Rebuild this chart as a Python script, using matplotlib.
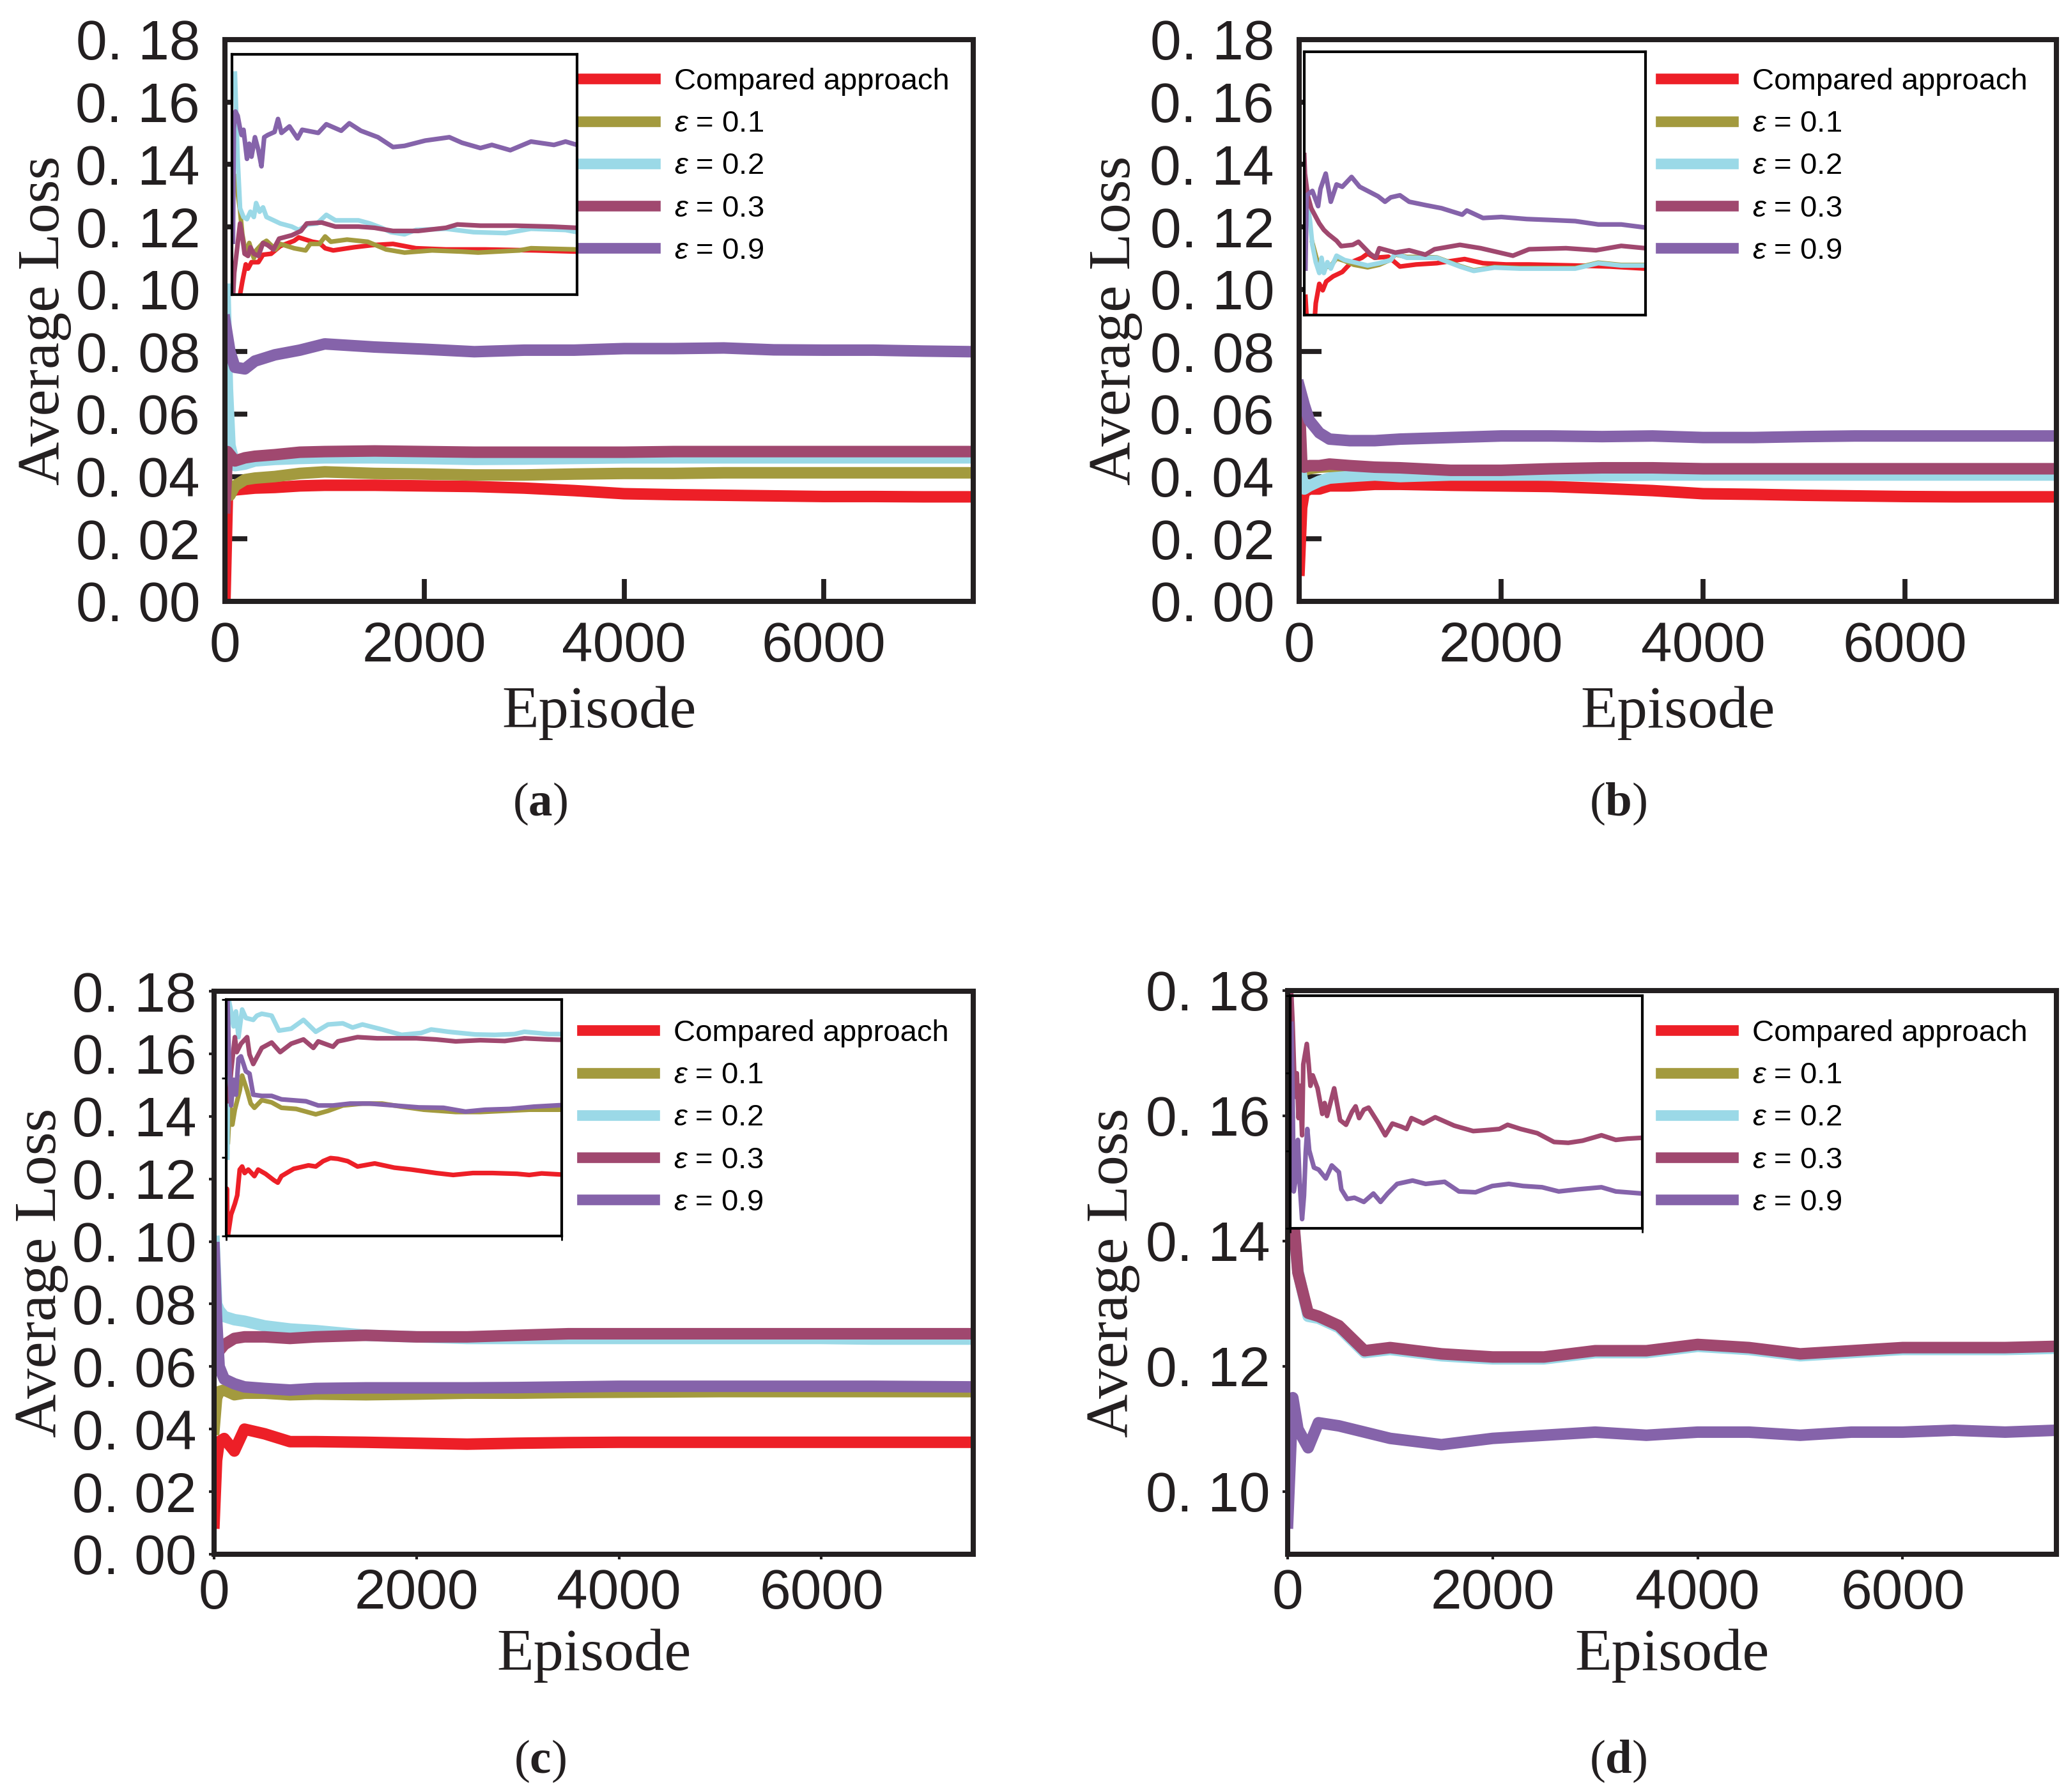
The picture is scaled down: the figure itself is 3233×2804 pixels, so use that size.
import matplotlib
matplotlib.use('Agg')
import matplotlib.pyplot as plt
import numpy as np
from matplotlib.ticker import FuncFormatter

# ---- data ----
EPISODES = [0, 25, 50, 100, 200, 300, 500, 750, 1000, 1500, 2000, 2500,
            3000, 3500, 4000, 4500, 5000, 5500, 6000, 6500, 7000, 7500]

LABELS = ['Compared approach', r'$\varepsilon$ = 0.1', r'$\varepsilon$ = 0.2',
          r'$\varepsilon$ = 0.3', r'$\varepsilon$ = 0.9']
COLORS = ['#ed1f27', '#a39a3e', '#9bd9e7', '#a0486f', '#8563aa']

# (a)
A_RED = [0.0, 0.034, 0.035, 0.0357, 0.036, 0.0363, 0.0365, 0.037, 0.0372, 0.0372, 0.037, 0.0368,
         0.0363, 0.0355, 0.0345, 0.0342, 0.034, 0.0338, 0.0336, 0.0336, 0.0335, 0.0335]
A_E01 = [0.045, 0.036, 0.034, 0.037, 0.039, 0.0395, 0.040, 0.041, 0.0415, 0.041, 0.0408, 0.0405,
         0.0405, 0.0408, 0.041, 0.041, 0.0412, 0.0412, 0.0412, 0.0412, 0.0412, 0.0412]
A_E02 = [0.100, 0.068, 0.050, 0.0435, 0.044, 0.045, 0.0455, 0.0458, 0.046, 0.046, 0.0458, 0.0455,
         0.0456, 0.0458, 0.046, 0.046, 0.046, 0.046, 0.046, 0.046, 0.046, 0.046]
A_E03 = [0.030, 0.048, 0.047, 0.045, 0.046, 0.0465, 0.047, 0.0478, 0.048, 0.0482, 0.048, 0.0478,
         0.0478, 0.0478, 0.0478, 0.048, 0.048, 0.048, 0.048, 0.048, 0.048, 0.048]
A_E09 = [0.090, 0.085, 0.080, 0.075, 0.0745, 0.077, 0.079, 0.0805, 0.0825, 0.0815, 0.0808, 0.080,
         0.0805, 0.0805, 0.081, 0.081, 0.0812, 0.0806, 0.0805, 0.0805, 0.0802, 0.080]

# (b)
B_RED = [0.010, 0.030, 0.035, 0.036, 0.036, 0.037, 0.037, 0.0375, 0.0375, 0.0372, 0.037, 0.0368,
         0.0362, 0.0355, 0.0345, 0.0343, 0.034, 0.0338, 0.0336, 0.0335, 0.0335, 0.0335]
B_E01 = [0.050, 0.044, 0.042, 0.0425, 0.043, 0.0432, 0.043, 0.0425, 0.0422, 0.0415, 0.0418, 0.042,
         0.0422, 0.0422, 0.042, 0.042, 0.042, 0.042, 0.042, 0.042, 0.042, 0.042]
B_E02 = [0.045, 0.040, 0.036, 0.037, 0.0385, 0.0395, 0.040, 0.0405, 0.040, 0.0405, 0.0405, 0.0405,
         0.0402, 0.0405, 0.0405, 0.0405, 0.0405, 0.0405, 0.0405, 0.0405, 0.0405, 0.0405]
B_E03 = [0.065, 0.045, 0.043, 0.0435, 0.0435, 0.044, 0.0435, 0.043, 0.0428, 0.042, 0.042, 0.0425,
         0.0428, 0.0428, 0.0425, 0.0425, 0.0425, 0.0425, 0.0425, 0.0425, 0.0425, 0.0425]
B_E09 = [0.069, 0.066, 0.063, 0.058, 0.054, 0.052, 0.0515, 0.0515, 0.052, 0.0525, 0.053, 0.053,
         0.0528, 0.053, 0.0525, 0.0525, 0.0528, 0.053, 0.053, 0.053, 0.053, 0.053]

# (c)
C_RED = [0.010, 0.030, 0.036, 0.037, 0.033, 0.040, 0.0385, 0.036, 0.036, 0.0358, 0.0355, 0.0352,
         0.0355, 0.0357, 0.0358, 0.0358, 0.0358, 0.0358, 0.0358, 0.0358, 0.0358, 0.0358]
C_E01 = [0.040, 0.050, 0.052, 0.0525, 0.051, 0.0515, 0.0515, 0.051, 0.0512, 0.051, 0.0512, 0.0515,
         0.0515, 0.0517, 0.0518, 0.0519, 0.052, 0.052, 0.052, 0.052, 0.052, 0.052]
C_E02 = [0.100, 0.080, 0.078, 0.076, 0.075, 0.0745, 0.073, 0.072, 0.0715, 0.070, 0.0695, 0.069,
         0.069, 0.069, 0.069, 0.069, 0.069, 0.069, 0.069, 0.0688, 0.0688, 0.0688]
C_E03 = [0.075, 0.068, 0.065, 0.067, 0.069, 0.0695, 0.0695, 0.069, 0.0695, 0.070, 0.0695, 0.0695,
         0.070, 0.0705, 0.0705, 0.0705, 0.0705, 0.0705, 0.0705, 0.0705, 0.0705, 0.0705]
C_E09 = [0.098, 0.075, 0.060, 0.056, 0.0545, 0.0535, 0.053, 0.0525, 0.053, 0.0532, 0.0532, 0.0532,
         0.0533, 0.0535, 0.0537, 0.0537, 0.0537, 0.0537, 0.0537, 0.0537, 0.0536, 0.0535]

# (d)  compared approach and eps=0.1 lie below the visible range
D_RED = []
D_E01 = []
D_E02 = [0.178, 0.158, 0.1445, 0.1352, 0.128, 0.1277, 0.1262, 0.1222, 0.1227, 0.1217, 0.1212, 0.1212,
         0.1222, 0.1222, 0.1232, 0.1227, 0.1217, 0.1222, 0.1227, 0.1227, 0.1227, 0.1229]
D_E03 = [0.180, 0.160, 0.145, 0.135, 0.1285, 0.128, 0.1265, 0.1225, 0.123, 0.122, 0.1215, 0.1215,
         0.1225, 0.1225, 0.1235, 0.123, 0.122, 0.1225, 0.123, 0.123, 0.123, 0.1232]
D_E09 = [0.095, 0.105, 0.115, 0.110, 0.107, 0.111, 0.1105, 0.1095, 0.1085, 0.1075, 0.1085, 0.109,
         0.1095, 0.109, 0.1095, 0.1095, 0.109, 0.1095, 0.1095, 0.1098, 0.1095, 0.1098]

# insets: first 3500 episodes, (episode, loss) pairs
A_IN_RED = [(60, 0.0), (82, 0.018), (105, 0.0234), (140, 0.0306), (163, 0.0288), (198, 0.0315), (268, 0.0315),
            (315, 0.0346), (397, 0.035), (490, 0.0382), (630, 0.0404), (677, 0.0418), (817, 0.040), (887, 0.0395),
            (945, 0.0373), (1027, 0.0364), (1237, 0.0377), (1423, 0.0386), (1633, 0.0391), (1866, 0.0373),
            (2170, 0.0368), (2566, 0.0368), (3080, 0.0364), (3500, 0.0359)]
A_IN_E01 = [(35, 0.0673), (82, 0.053), (105, 0.0431), (140, 0.035), (175, 0.0395), (222, 0.0332), (245, 0.0364),
            (315, 0.0395), (350, 0.0404), (443, 0.0368), (490, 0.0391), (630, 0.0373), (747, 0.0364), (793, 0.0391),
            (887, 0.0391), (945, 0.0422), (1003, 0.040), (1167, 0.0409), (1376, 0.040), (1563, 0.0368),
            (1750, 0.0355), (2030, 0.0364), (2333, 0.0359), (2496, 0.0355), (2916, 0.0364), (3033, 0.0373),
            (3500, 0.0368)]
A_IN_E02 = [(30, 0.11), (58, 0.0745), (82, 0.0539), (117, 0.0503), (152, 0.0494), (187, 0.0525), (222, 0.0503),
            (245, 0.0561), (280, 0.0525), (315, 0.0543), (350, 0.0503), (397, 0.0494), (490, 0.0476), (607, 0.0463),
            (677, 0.0449), (770, 0.0472), (863, 0.0476), (957, 0.0512), (1050, 0.0489), (1283, 0.0489),
            (1400, 0.0476), (1517, 0.0458), (1610, 0.044), (1750, 0.0431), (1866, 0.0449), (2170, 0.0454),
            (2450, 0.044), (2777, 0.0436), (3033, 0.0454), (3383, 0.0449), (3500, 0.044)]
A_IN_E03 = [(12, 0.018), (23, 0.027), (82, 0.0476), (105, 0.0422), (128, 0.035), (163, 0.0341), (187, 0.0377),
            (222, 0.035), (268, 0.0341), (315, 0.0395), (362, 0.0386), (420, 0.0368), (478, 0.0413), (607, 0.0427),
            (700, 0.0445), (758, 0.0476), (910, 0.048), (1050, 0.0463), (1283, 0.0463), (1446, 0.0458),
            (1633, 0.0445), (1890, 0.0445), (2170, 0.0458), (2286, 0.0472), (2520, 0.0467), (2870, 0.0467),
            (3243, 0.0463), (3500, 0.0458)]
A_IN_E09 = [(10, 0.040), (19, 0.0871), (35, 0.0942), (58, 0.0924), (82, 0.0871), (98, 0.0844), (117, 0.0866),
            (152, 0.0745), (175, 0.0808), (198, 0.0754), (233, 0.0835), (268, 0.0781), (299, 0.0714), (327, 0.0835),
            (362, 0.0844), (432, 0.0857), (467, 0.0911), (502, 0.0853), (583, 0.088), (665, 0.083), (712, 0.0866),
            (875, 0.0853), (957, 0.0889), (1108, 0.0862), (1190, 0.0893), (1307, 0.0862), (1481, 0.0835),
            (1633, 0.0794), (1750, 0.0799), (1960, 0.0821), (2205, 0.0835), (2333, 0.0812), (2520, 0.079),
            (2636, 0.0803), (2823, 0.0781), (3033, 0.0817), (3266, 0.0803), (3383, 0.0817), (3500, 0.0803)]

B_IN_RED = [(12, 0.0251), (35, 0.010), (95, 0.010), (118, 0.0226), (154, 0.0301), (189, 0.0276), (225, 0.031),
            (296, 0.033), (390, 0.0347), (485, 0.0385), (591, 0.0402), (650, 0.0418), (721, 0.0402), (863, 0.0406),
            (981, 0.0368), (1147, 0.0376), (1360, 0.0381), (1644, 0.0397), (1833, 0.0381), (2069, 0.0376),
            (2306, 0.0376), (2779, 0.0372), (3134, 0.0368), (3500, 0.036)]
B_IN_E01 = [(83, 0.046), (154, 0.036), (272, 0.037), (331, 0.040), (414, 0.039), (508, 0.0375), (650, 0.0365),
            (769, 0.0375), (887, 0.0395), (934, 0.0415), (1052, 0.0405), (1242, 0.0405), (1360, 0.0403),
            (1596, 0.037), (1738, 0.0353), (1951, 0.0366), (2211, 0.0362), (2448, 0.0362), (2779, 0.0362),
            (3015, 0.0383), (3251, 0.0374), (3500, 0.0374)]
B_IN_E02 = [(45, 0.058), (59, 0.0544), (83, 0.0452), (118, 0.0385), (154, 0.0343), (177, 0.0402), (201, 0.0343),
            (237, 0.0385), (272, 0.036), (331, 0.041), (414, 0.0393), (508, 0.0385), (650, 0.0372), (769, 0.0381),
            (887, 0.0393), (934, 0.0418), (1052, 0.0402), (1242, 0.0402), (1360, 0.0402), (1596, 0.0368),
            (1738, 0.0351), (1951, 0.0364), (2211, 0.036), (2448, 0.036), (2779, 0.036), (3015, 0.0381),
            (3251, 0.0372), (3500, 0.0372)]
B_IN_E03 = [(0, 0.080), (7, 0.0728), (35, 0.0644), (71, 0.0594), (106, 0.0569), (154, 0.0535), (201, 0.051),
            (248, 0.0493), (331, 0.0468), (378, 0.0447), (497, 0.0452), (556, 0.0464), (674, 0.0418), (733, 0.0402),
            (769, 0.0439), (934, 0.0422), (1076, 0.0431), (1242, 0.0414), (1336, 0.0435), (1596, 0.0452),
            (1809, 0.0439), (2140, 0.041), (2306, 0.0435), (2684, 0.0439), (2992, 0.0431), (3251, 0.0448),
            (3500, 0.0439)]
B_IN_E09 = [(12, 0.036), (24, 0.0644), (83, 0.0661), (142, 0.0602), (166, 0.0669), (220, 0.0728), (272, 0.0619),
            (331, 0.0686), (390, 0.0677), (485, 0.0715), (568, 0.0677), (650, 0.0661), (757, 0.064), (828, 0.0619),
            (887, 0.0636), (981, 0.0644), (1076, 0.0619), (1242, 0.0606), (1407, 0.0594), (1620, 0.0569),
            (1667, 0.0585), (1833, 0.0556), (2022, 0.056), (2282, 0.0552), (2542, 0.0548), (2779, 0.0544),
            (3015, 0.0531), (3251, 0.0531), (3500, 0.0519)]

C_IN_RED = [(3, 0.010), (8, 0.0319), (14, 0.019), (51, 0.0252), (90, 0.028), (115, 0.0302), (141, 0.0369),
            (166, 0.0377), (192, 0.036), (230, 0.0369), (294, 0.0352), (333, 0.0369), (410, 0.0358), (499, 0.0341),
            (538, 0.0335), (576, 0.0352), (704, 0.0371), (858, 0.038), (934, 0.0377), (1011, 0.0391), (1088, 0.0399),
            (1165, 0.0397), (1267, 0.0391), (1370, 0.0377), (1549, 0.0385), (1754, 0.0374), (1933, 0.0369),
            (2189, 0.036), (2368, 0.0355), (2573, 0.036), (2778, 0.036), (3034, 0.0358), (3162, 0.0355),
            (3290, 0.0359), (3500, 0.0356)]
C_IN_E01 = [(18, 0.0441), (38, 0.0541), (64, 0.0486), (90, 0.0525), (141, 0.0575), (166, 0.0614), (218, 0.0575),
            (256, 0.0541), (294, 0.053), (371, 0.055), (474, 0.0544), (576, 0.053), (730, 0.0527), (934, 0.0513),
            (1062, 0.0522), (1216, 0.0536), (1421, 0.0541), (1626, 0.0541), (1830, 0.0533), (2061, 0.0525),
            (2394, 0.0519), (2650, 0.0519), (2906, 0.0522), (3162, 0.0525), (3500, 0.0525)]
C_IN_E02 = [(12, 0.040), (26, 0.0812), (51, 0.0781), (77, 0.0742), (102, 0.0781), (128, 0.0714), (166, 0.0786),
            (205, 0.0764), (282, 0.0759), (320, 0.077), (371, 0.0775), (474, 0.077), (550, 0.0731), (678, 0.0736),
            (806, 0.0759), (934, 0.0728), (1062, 0.0747), (1216, 0.075), (1318, 0.0739), (1421, 0.0747),
            (1626, 0.0734), (1830, 0.072), (2035, 0.0725), (2138, 0.0734), (2317, 0.0728), (2598, 0.0721),
            (2803, 0.072), (3008, 0.0722), (3110, 0.0728), (3366, 0.0722), (3500, 0.0722)]
C_IN_E03 = [(26, 0.0547), (51, 0.0625), (90, 0.0714), (110, 0.0675), (154, 0.0697), (218, 0.0714), (243, 0.0669),
            (282, 0.0644), (371, 0.0686), (474, 0.070), (563, 0.0675), (678, 0.0697), (806, 0.0708), (909, 0.0686),
            (960, 0.0703), (1114, 0.0689), (1165, 0.0703), (1370, 0.0714), (1574, 0.0711), (1779, 0.0711),
            (1984, 0.0711), (2189, 0.0708), (2394, 0.0703), (2650, 0.0706), (2906, 0.0704), (3110, 0.0711),
            (3366, 0.0708), (3500, 0.0707)]
C_IN_E09 = [(0, 0.090), (13, 0.0812), (26, 0.0686), (51, 0.0536), (77, 0.0603), (102, 0.0564), (128, 0.0658),
            (154, 0.0664), (205, 0.0625), (243, 0.0619), (282, 0.0564), (371, 0.0561), (474, 0.0561), (576, 0.0552),
            (678, 0.055), (832, 0.0547), (960, 0.0536), (1114, 0.0536), (1293, 0.0541), (1498, 0.0541),
            (1754, 0.0536), (2010, 0.0531), (2266, 0.053), (2496, 0.052), (2701, 0.0525), (2957, 0.0527),
            (3213, 0.0533), (3500, 0.0537)]

D_IN_E03 = [(12, 0.1565), (24, 0.1498), (47, 0.1324), (66, 0.138), (83, 0.1273), (99, 0.135), (118, 0.1232),
            (130, 0.1401), (165, 0.145), (184, 0.1401), (201, 0.135), (224, 0.1375), (272, 0.1344), (319, 0.1283),
            (342, 0.1309), (366, 0.1278), (437, 0.1344), (496, 0.1268), (555, 0.1257), (614, 0.1288), (650, 0.1301),
            (685, 0.1273), (732, 0.1293), (779, 0.1298), (874, 0.1262), (945, 0.1232), (1016, 0.126), (1110, 0.1252),
            (1157, 0.1247), (1205, 0.1273), (1323, 0.126), (1441, 0.1275), (1630, 0.1255), (1819, 0.1242),
            (1937, 0.1244), (2079, 0.1247), (2161, 0.1257), (2291, 0.1247), (2456, 0.1237), (2622, 0.1216),
            (2764, 0.1214), (2905, 0.1219), (3094, 0.1232), (3236, 0.1221), (3354, 0.1224), (3500, 0.1226)]
D_IN_E09 = [(12, 0.1498), (24, 0.1324), (35, 0.1098), (59, 0.1134), (76, 0.1221), (94, 0.1119), (118, 0.1032),
            (137, 0.1088), (154, 0.1191), (170, 0.1247), (189, 0.1196), (236, 0.1155), (283, 0.115), (354, 0.1129),
            (413, 0.116), (484, 0.1144), (508, 0.1103), (567, 0.108), (638, 0.1083), (732, 0.1073), (827, 0.1093),
            (898, 0.1073), (968, 0.1093), (1063, 0.1116), (1216, 0.1124), (1346, 0.1116), (1535, 0.1121),
            (1677, 0.1098), (1842, 0.1096), (2008, 0.1111), (2173, 0.1116), (2315, 0.1111), (2504, 0.1108),
            (2669, 0.1098), (2858, 0.1103), (3094, 0.1108), (3236, 0.1098), (3500, 0.1093)]

W, H = 3233, 2804
DPI = 200
SANS = ['Liberation Sans', 'DejaVu Sans']
SERIF = ['Liberation Serif', 'DejaVu Serif']
SPINE = '#231f20'

plt.rcParams['font.family'] = SANS
plt.rcParams['mathtext.fontset'] = 'custom'
plt.rcParams['mathtext.rm'] = 'Liberation Sans'
plt.rcParams['mathtext.it'] = 'Liberation Sans:italic'
plt.rcParams['mathtext.bf'] = 'Liberation Serif:bold'


def px_rect(left, top, right, bottom):
    return [left / W, 1 - bottom / H, (right - left) / W, (bottom - top) / H]


PANELS = [
    dict(tag='a', main=[A_RED, A_E01, A_E02, A_E03, A_E09],
         inset=[A_IN_RED, A_IN_E01, A_IN_E02, A_IN_E03, A_IN_E09],
         rect=px_rect(352, 62, 1523, 941), inset_rect=px_rect(363, 85, 903, 461),
         ylim=(0, 0.18), inset_ylim=(0.018, 0.118), ticks_in=True, ylab_x=-0.205, xlab_y=-0.150,
         leg=(912, 106), tag_xy=(845, 1258)),
    dict(tag='b', main=[B_RED, B_E01, B_E02, B_E03, B_E09],
         inset=[B_IN_RED, B_IN_E01, B_IN_E02, B_IN_E03, B_IN_E09],
         rect=px_rect(2033, 62, 3218, 941), inset_rect=px_rect(2041, 81, 2575, 493),
         ylim=(0, 0.18), inset_ylim=(0.018, 0.120), ticks_in=True, ylab_x=-0.207, xlab_y=-0.150,
         leg=(2599, 106), tag_xy=(2532, 1258)),
    dict(tag='c', main=[C_RED, C_E01, C_E02, C_E03, C_E09],
         inset=[C_IN_RED, C_IN_E01, C_IN_E02, C_IN_E03, C_IN_E09],
         rect=px_rect(335, 1551, 1523, 2432), inset_rect=px_rect(354, 1564, 879, 1934),
         ylim=(0, 0.18), inset_ylim=(0.0196, 0.0812), ticks_in=False, ylab_x=-0.192, xlab_y=-0.132,
         leg=(911, 1595), tag_xy=(845, 2756)),
    dict(tag='d', main=[D_RED, D_E01, D_E02, D_E03, D_E09],
         inset=[[], [], [], D_IN_E03, D_IN_E09],
         rect=px_rect(2015, 1550, 3218, 2432), inset_rect=px_rect(2019, 1558, 2570, 1922),
         ylim=(0.09, 0.18), inset_ylim=(0.101, 0.1565), ticks_in=False, ylab_x=-0.192, xlab_y=-0.132,
         leg=(2599, 1595), tag_xy=(2532, 2756)),
]


def fmt_loss(v, _):
    return '{:.2f}'.format(v).replace('.', '. ')


def draw_panel(fig, p):
    ax = fig.add_axes(p['rect'])
    for series, color, label in zip(p['main'], COLORS, LABELS):
        xs = EPISODES[:len(series)]
        ax.plot(xs, series, color=color, lw=6.5, label=label)
    ax.set_xlim(0, 7500)
    ax.set_ylim(*p['ylim'])
    ax.set_xticks([0, 2000, 4000, 6000])
    lo = 0.10 if p['ylim'][0] > 0 else 0.0
    ax.set_yticks(np.arange(lo, 0.1801, 0.02))
    ax.yaxis.set_major_formatter(FuncFormatter(fmt_loss))
    for s in ax.spines.values():
        s.set_linewidth(2.9)
        s.set_color(SPINE)
    if p['ticks_in']:
        ax.tick_params(axis='both', direction='in', length=12.5, width=2.8, color=SPINE)
        ax.tick_params(axis='y', pad=14)
        ax.tick_params(axis='x', pad=11)
    else:
        ax.tick_params(axis='both', direction='out', length=3, width=1.5, color=SPINE)
        ax.tick_params(axis='y', pad=7)
        ax.tick_params(axis='x', pad=5)
    ax.tick_params(labelsize=31.5, labelcolor='#231f20')

    ax.set_ylabel('Average Loss', family=SERIF, fontsize=34, color='#231f20')
    ax.yaxis.set_label_coords(p['ylab_x'], 0.5)
    ax.set_xlabel('Episode', family=SERIF, fontsize=34, color='#231f20')
    ax.xaxis.set_label_coords(0.5, p['xlab_y'])

    lx, ly = p['leg']
    leg = ax.legend(loc='upper left', bbox_to_anchor=(lx / W, 1 - ly / H), bbox_transform=fig.transFigure,
                    frameon=False, borderpad=0, borderaxespad=0, handlelength=2.4, handletextpad=0.63,
                    labelspacing=0.47, prop={'family': SANS, 'size': 17})
    for h in leg.get_lines():
        h.set_linewidth(6)

    ins = fig.add_axes(p['inset_rect'])
    for pts, color in zip(p['inset'], COLORS):
        if pts:
            xs, ys = zip(*pts)
            ins.plot(xs, ys, color=color, lw=2.6)
    ins.set_xlim(0, 3500)
    ins.set_ylim(*p['inset_ylim'])
    for s in ins.spines.values():
        s.set_linewidth(1.5)
        s.set_color('black')
    if p['ticks_in']:
        ins.set_xticks([])
        ins.set_yticks([])
    else:
        ins.set_xticks([0, 3500])
        ins.set_yticks(np.linspace(*p['inset_ylim'], 4))
        ins.tick_params(direction='out', length=2.5, width=1, labelleft=False, labelbottom=False)

    tx, ty = p['tag_xy']
    fig.text(tx / W, 1 - ty / H, '($\\mathbf{%s}$)' % p['tag'], ha='center', va='center',
             family=SERIF, fontsize=27, color='#231f20')


def main():
    fig = plt.figure(figsize=(W / DPI, H / DPI), dpi=DPI)
    for p in PANELS:
        draw_panel(fig, p)
    fig.savefig('out.png', dpi=DPI, facecolor='white')


if __name__ == '__main__':
    main()
